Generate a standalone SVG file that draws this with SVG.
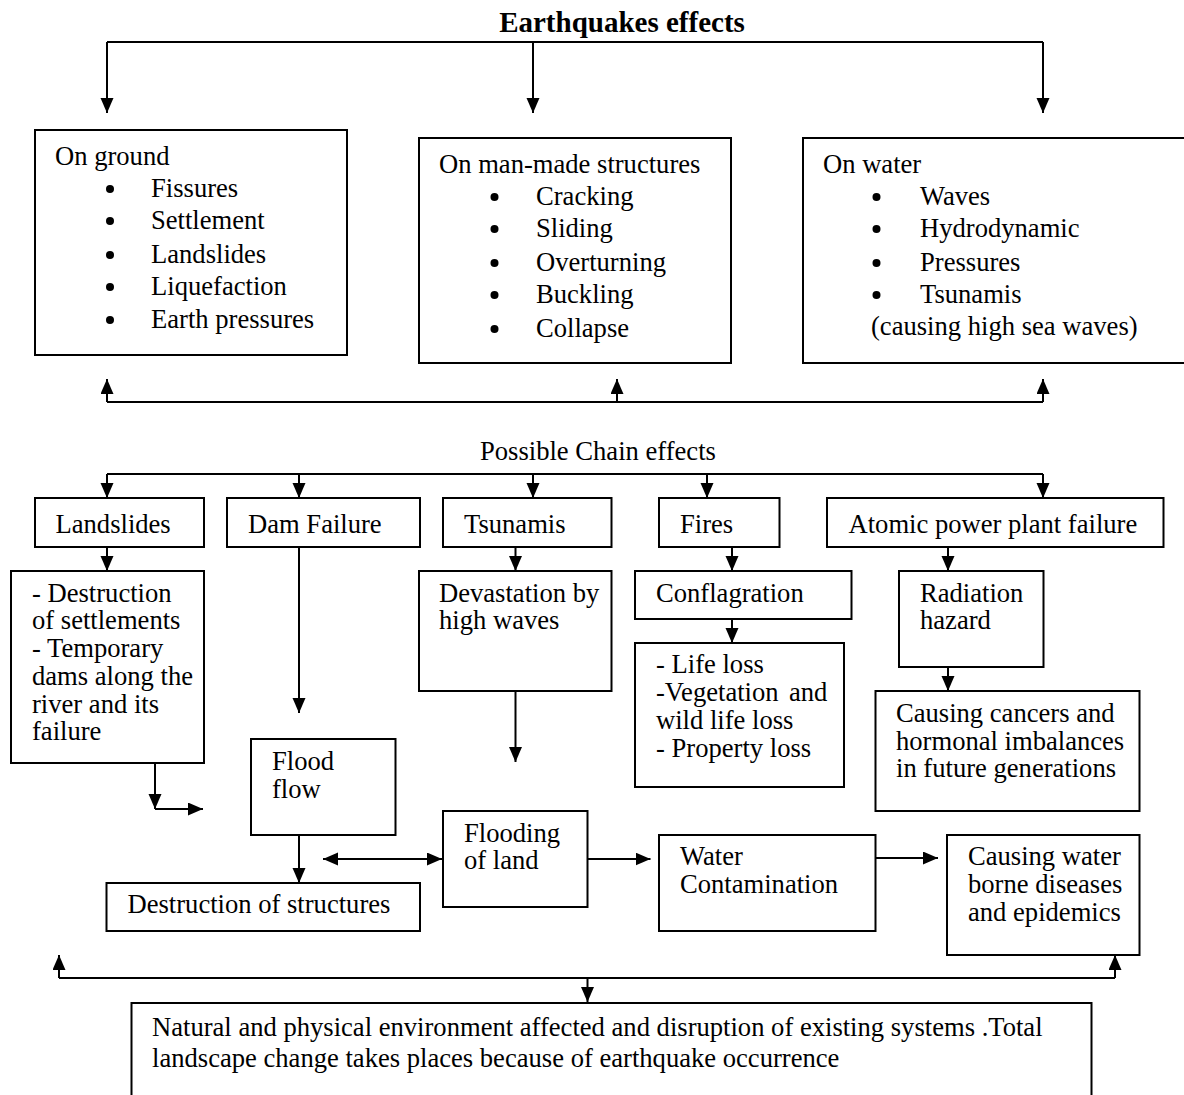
<svg xmlns="http://www.w3.org/2000/svg" width="1184" height="1095" viewBox="0 0 1184 1095">
<style>
.box{fill:#fff;stroke:#000;stroke-width:2}
.ln{fill:none;stroke:#000;stroke-width:2}
.ar{fill:none;stroke:#000;stroke-width:2;marker-end:url(#ah)}
.da{fill:none;stroke:#000;stroke-width:2;marker-start:url(#ah);marker-end:url(#ah)}
text{font-family:"Liberation Serif","Times New Roman",serif;font-size:26.6px;fill:#000}
.title{font-weight:bold;font-size:29px}
</style>
<defs>
<marker id="ah" markerUnits="userSpaceOnUse" markerWidth="16" markerHeight="14" refX="15" refY="6.5" orient="auto-start-reverse" viewBox="0 0 16 14">
<path d="M0,0 L15,6.5 L0,13 z" fill="#000"/>
</marker>
</defs>
<rect width="1184" height="1095" fill="#fff"/>
<text class="title" x="622" y="32" text-anchor="middle">Earthquakes effects</text>
<g id="connectors">
<path class="ln" d="M107,42 H1043"/>
<path class="ar" d="M107,42 V113"/>
<path class="ar" d="M533,42 V113"/>
<path class="ar" d="M1043,42 V113"/>
<path class="ln" d="M107,402 H1043"/>
<path class="ar" d="M107,402 V379"/>
<path class="ar" d="M617,402 V379"/>
<path class="ar" d="M1043,402 V379"/>
<path class="ln" d="M107,474 H1043"/>
<path class="ar" d="M107,474 V498"/>
<path class="ar" d="M299,474 V498"/>
<path class="ar" d="M533,474 V498"/>
<path class="ar" d="M707,474 V498"/>
<path class="ar" d="M1043,474 V498"/>
<path class="ar" d="M107,547 V571"/>
<path class="ar" d="M515.5,547 V571"/>
<path class="ar" d="M732,547 V571"/>
<path class="ar" d="M948,547 V571"/>
<path class="ar" d="M299,547 V713"/>
<path class="ar" d="M515.5,691 V762"/>
<path class="ar" d="M732,619 V643"/>
<path class="ar" d="M948,667 V691"/>
<path class="ar" d="M155,763 V809"/>
<path class="ar" d="M155,809 H203"/>
<path class="ar" d="M299,835 V883"/>
<path class="da" d="M323,859 H442"/>
<path class="ar" d="M587.5,859 H650.5"/>
<path class="ar" d="M875.5,858 H938"/>
<path class="ln" d="M59,978 H1115"/>
<path class="ar" d="M59,978 V955"/>
<path class="ar" d="M1115,978 V955"/>
<path class="ar" d="M587.5,978 V1002"/>
</g>
<g id="on-ground">
<rect class="box" x="35" y="130" width="312" height="225"/>
<text x="55" y="165">On ground</text>
<g>
<circle cx="110" cy="189" r="4"/><circle cx="110" cy="221" r="4"/><circle cx="110" cy="255" r="4"/><circle cx="110" cy="287" r="4"/><circle cx="110" cy="320" r="4"/>
</g>
<text x="151" y="197">Fissures</text>
<text x="151" y="229">Settlement</text>
<text x="151" y="263">Landslides</text>
<text x="151" y="295">Liquefaction</text>
<text x="151" y="328">Earth pressures</text>
</g>
<g id="on-man-made">
<rect class="box" x="419" y="138" width="312" height="225"/>
<text x="439" y="173">On man-made structures</text>
<circle cx="494.5" cy="197" r="4"/><circle cx="494.5" cy="229" r="4"/><circle cx="494.5" cy="263" r="4"/><circle cx="494.5" cy="295" r="4"/><circle cx="494.5" cy="329" r="4"/>
<text x="536" y="205">Cracking</text>
<text x="536" y="237">Sliding</text>
<text x="536" y="271">Overturning</text>
<text x="536" y="303">Buckling</text>
<text x="536" y="337">Collapse</text>
</g>
<g id="on-water">
<rect class="box" x="803" y="138" width="390" height="225"/>
<text x="823" y="173">On water</text>
<circle cx="876.5" cy="197" r="4"/><circle cx="876.5" cy="229" r="4"/><circle cx="876.5" cy="263" r="4"/><circle cx="876.5" cy="295" r="4"/>
<text x="920" y="205">Waves</text>
<text x="920" y="237">Hydrodynamic</text>
<text x="920" y="271">Pressures</text>
<text x="920" y="303">Tsunamis</text>
<text x="871" y="335">(causing high sea waves)</text>
</g>
<text x="480" y="460">Possible Chain effects</text>
<g id="landslides">
<rect class="box" x="35" y="498" width="169" height="49"/>
<text x="55.5" y="533">Landslides</text>
</g>
<g id="dam-failure">
<rect class="box" x="227" y="498" width="193" height="49"/>
<text x="248" y="533">Dam Failure</text>
</g>
<g id="tsunamis">
<rect class="box" x="443" y="498" width="168.5" height="49"/>
<text x="464" y="533">Tsunamis</text>
</g>
<g id="fires">
<rect class="box" x="659" y="498" width="120.5" height="49"/>
<text x="680" y="533">Fires</text>
</g>
<g id="atomic">
<rect class="box" x="827" y="498" width="336.5" height="49"/>
<text x="848.5" y="533">Atomic power plant failure</text>
</g>
<g id="landslide-effects">
<rect class="box" x="11" y="571" width="193" height="192"/>
<text x="32" y="602">- Destruction</text>
<text x="32" y="629">of settlements</text>
<text x="32" y="657">- Temporary</text>
<text x="32" y="685">dams along the</text>
<text x="32" y="713">river and its</text>
<text x="32" y="740">failure</text>
</g>
<g id="devastation">
<rect class="box" x="419" y="571" width="192.5" height="120"/>
<text x="439" y="602">Devastation by</text>
<text x="439" y="629">high waves</text>
</g>
<g id="conflagration">
<rect class="box" x="635" y="571" width="216.5" height="48"/>
<text x="656" y="602">Conflagration</text>
</g>
<g id="losses">
<rect class="box" x="635" y="643" width="209" height="144"/>
<text x="656" y="673">- Life loss</text>
<text x="656" y="701">-Vegetation <tspan x="789">and</tspan></text>
<text x="656" y="729">wild life loss</text>
<text x="656" y="757">- Property loss</text>
</g>
<g id="radiation">
<rect class="box" x="899" y="571" width="144.5" height="96"/>
<text x="920" y="602">Radiation</text>
<text x="920" y="629">hazard</text>
</g>
<g id="cancers">
<rect class="box" x="875.5" y="691" width="264" height="120"/>
<text x="896" y="722">Causing cancers and</text>
<text x="896" y="750">hormonal imbalances</text>
<text x="896" y="777">in future generations</text>
</g>
<g id="flood-flow">
<rect class="box" x="251" y="739" width="144.5" height="96"/>
<text x="272" y="770">Flood</text>
<text x="272" y="798">flow</text>
</g>
<g id="destruction-structures">
<rect class="box" x="106.5" y="883" width="313.5" height="48"/>
<text x="127.5" y="913">Destruction of structures</text>
</g>
<g id="flooding-land">
<rect class="box" x="443" y="811" width="144.5" height="96"/>
<text x="464" y="842">Flooding</text>
<text x="464" y="869">of land</text>
</g>
<g id="water-contamination">
<rect class="box" x="659" y="835" width="216.5" height="96"/>
<text x="680" y="865">Water</text>
<text x="680" y="893">Contamination</text>
</g>
<g id="water-diseases">
<rect class="box" x="947" y="835" width="192.5" height="120"/>
<text x="968" y="865">Causing water</text>
<text x="968" y="893">borne diseases</text>
<text x="968" y="921">and epidemics</text>
</g>
<g id="final">
<rect class="box" x="131.5" y="1003" width="960" height="110"/>
<text x="152" y="1036">Natural and physical environment affected and disruption of existing systems .Total</text>
<text x="152" y="1067">landscape change takes places because of earthquake occurrence</text>
</g>
</svg>
